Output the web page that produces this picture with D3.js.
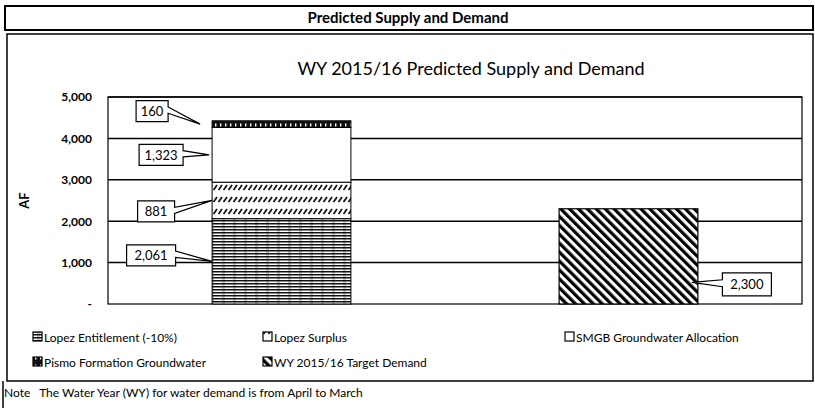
<!DOCTYPE html>
<html>
<head>
<meta charset="utf-8">
<script src="https://cdn.jsdelivr.net/npm/d3@7"></script>
<style>
  body { margin: 0; background: #fff; }
  text { font-family: Lato, "Open Sans", sans-serif; fill: #000; }
</style>
</head>
<body>
<script>
// data
var categories = ["Supply", "Demand"];
var supplySeries = ["Lopez Entitlement (-10%)", "Lopez Surplus", "SMGB Groundwater Allocation", "Pismo Formation Groundwater"];
var supplyValues = [2061, 881, 1323, 160];
var demandSeries = ["WY 2015/16 Target Demand"];
var demandValues = [2300];
var yTicks = [0, 1000, 2000, 3000, 4000, 5000];

var svg = d3.select("body")
    .append("svg")
    .attr("width", 815)
    .attr("height", 408)
    .style("display", "block");

margin = {top: 97, right: 13, bottom: 104, left: 108};
width = 815 - margin.left - margin.right;
height = 408 - margin.top - margin.bottom;

// patterns
var defs = svg.append("defs");

var p1 = defs.append("pattern").attr("id", "pEnt")
    .attr("patternUnits", "userSpaceOnUse").attr("width", 11).attr("height", 3);
p1.append("rect").attr("width", 11).attr("height", 3).attr("fill", "#fff");
p1.append("rect").attr("width", 11).attr("height", 1.5).attr("fill", "#111");
p1.append("rect").attr("x", 4).attr("y", 1.5).attr("width", 3).attr("height", 0.8).attr("fill", "#555");

var p2 = defs.append("pattern").attr("id", "pSur")
    .attr("patternUnits", "userSpaceOnUse").attr("width", 5).attr("height", 12);
p2.append("rect").attr("width", 5).attr("height", 12).attr("fill", "#fff");
p2.append("path").attr("d", "M0.5,9 L4,4").attr("stroke", "#111").attr("stroke-width", 1.8);

var p4 = defs.append("pattern").attr("id", "pPis")
    .attr("patternUnits", "userSpaceOnUse").attr("width", 5).attr("height", 8);
p4.append("rect").attr("width", 5).attr("height", 8).attr("fill", "#111");
p4.append("rect").attr("x", 2).attr("y", 2.5).attr("width", 1.4).attr("height", 3).attr("fill", "#fff");

var p5 = defs.append("pattern").attr("id", "pDem")
    .attr("patternUnits", "userSpaceOnUse").attr("width", 6.3).attr("height", 6.3)
    .attr("patternTransform", "rotate(-45)");
p5.append("rect").attr("width", 6.3).attr("height", 6.3).attr("fill", "#fff");
p5.append("rect").attr("width", 3.2).attr("height", 6.3).attr("fill", "#000");

var fills = ["url(#pEnt)", "url(#pSur)", "#fff", "url(#pPis)"];

// frames
svg.append("rect").attr("x", 5).attr("y", 6).attr("width", 808).attr("height", 24)
    .attr("fill", "none").attr("stroke", "#000").attr("stroke-width", 2);
svg.append("text").attr("x", 408).attr("y", 23).attr("text-anchor", "middle")
    .style("font-size", "15px").style("font-weight", "bold")
    .text("Predicted Supply and Demand");
svg.append("rect").attr("x", 7).attr("y", 34).attr("width", 806).attr("height", 347)
    .attr("fill", "none").attr("stroke", "#000").attr("stroke-width", 1.5);
svg.append("line").attr("x1", 3).attr("x2", 3).attr("y1", 381).attr("y2", 408)
    .attr("stroke", "#000").attr("stroke-width", 1.5);

svg.append("text").attr("x", 471).attr("y", 75).attr("text-anchor", "middle")
    .style("font-size", "18px")
    .text("WY 2015/16 Predicted Supply and Demand");

g = svg.append("g").attr("transform", "translate(" + margin.left + "," + margin.top + ")");

var x = d3.scaleBand().domain(categories).range([0, width]).paddingInner(0.6).paddingOuter(0.3);
var y = d3.scaleLinear().domain([0, 5000]).range([height, 0]);

var yAxis = d3.axisLeft(y)
    .tickValues(yTicks)
    .tickSize(0)
    .tickFormat(function(d) { return d === 0 ? "-" : d3.format(",")(d); });

g.append("g")
    .call(yAxis)
    .call(function(a) { a.select(".domain").remove(); })
    .selectAll("text")
    .attr("x", -16)
    .style("font-family", "Lato, sans-serif")
    .style("font-size", "12px")
    .style("font-weight", "bold");

// gridlines
g.selectAll(".grid").data(yTicks.slice(1)).enter().append("line")
    .attr("x1", 0).attr("x2", width)
    .attr("y1", function(d) { return y(d); }).attr("y2", function(d) { return y(d); })
    .attr("stroke", "#000").attr("stroke-width", 1.5);

g.append("rect").attr("width", width).attr("height", height)
    .attr("fill", "none").attr("stroke", "#000").attr("stroke-width", 1.2);

svg.append("text")
    .attr("transform", "translate(29," + (margin.top + y(2500)) + ") rotate(-90)")
    .attr("text-anchor", "middle")
    .style("font-size", "13px").style("font-weight", "bold")
    .text("AF");

// stacked supply
var stackData = [];
var acc = 0;
supplyValues.forEach(function(v, i) {
    stackData.push({name: supplySeries[i], v: v, y0: acc, y1: acc + v, fill: fills[i]});
    acc += v;
});

g.selectAll(".seg").data(stackData).enter().append("rect")
    .attr("x", x(categories[0]))
    .attr("width", x.bandwidth())
    .attr("y", function(d) { return y(d.y1); })
    .attr("height", function(d) { return y(d.y0) - y(d.y1); })
    .attr("fill", function(d) { return d.fill; })
    .attr("stroke", "#000").attr("stroke-width", 1);

g.selectAll(".dem").data(demandValues).enter().append("rect")
    .attr("x", x(categories[1]))
    .attr("width", x.bandwidth())
    .attr("y", function(d) { return y(d); })
    .attr("height", function(d) { return height - y(d); })
    .attr("fill", "url(#pDem)")
    .attr("stroke", "#000").attr("stroke-width", 1.2);

// callouts: tip at bar edge, box placed by offset
var calloutLayout = [
    {dx: -48, dy: -13, w: 32, h: 21, tipDx: -12},
    {dx: -48, dy: 0, w: 44, h: 21, tipDx: -3},
    {dx: -56, dy: 11, w: 37, h: 21, tipDx: 0},
    {dx: -61, dy: -6, w: 49, h: 21, tipDx: 0}
];

function callout(cx, cy, w, h, tx, ty, label) {
    var x0 = cx - w / 2, x1 = cx + w / 2, y0 = cy - h / 2, y1 = cy + h / 2;
    var b1 = y0 + h * 0.3, b2 = y0 + h * 0.6;
    var d;
    if (tx > x1) {
        d = "M" + x0 + "," + y0 + "H" + x1 + "V" + b1 + "L" + tx + "," + ty + "L" + x1 + "," + b2 + "V" + y1 + "H" + x0 + "Z";
    } else {
        d = "M" + x0 + "," + y0 + "H" + x1 + "V" + y1 + "H" + x0 + "V" + b2 + "L" + tx + "," + ty + "L" + x0 + "," + b1 + "Z";
    }
    g.append("path").attr("d", d).attr("fill", "#fff").attr("stroke", "#000").attr("stroke-width", 1.2);
    g.append("text").attr("x", cx).attr("y", cy + 5).attr("text-anchor", "middle")
        .style("font-size", "13px").text(label);
}

stackData.slice().reverse().forEach(function(d, j) {
    var L = calloutLayout[j];
    var tx = x(categories[0]) + L.tipDx;
    var ty = y((d.y0 + d.y1) / 2);
    callout(tx + L.dx, ty + L.dy, L.w, L.h, tx, ty, d3.format(",")(d.v));
});

demandValues.forEach(function(v) {
    var tx = x(categories[1]) + x.bandwidth() - 6;
    var ty = y(v * 0.5) + 26;
    callout(tx + 55, ty + 2, 49, 23, tx, ty, d3.format(",")(v));
});

// legend
var legendItems = [
    {name: supplySeries[0], fill: fills[0], x: 33, y: 337},
    {name: supplySeries[1], fill: fills[1], x: 263, y: 337},
    {name: supplySeries[2], fill: fills[2], x: 565, y: 337},
    {name: supplySeries[3], fill: fills[3], x: 33, y: 362},
    {name: demandSeries[0], fill: "url(#pDem)", x: 263, y: 362}
];

var lg = svg.selectAll(".lg").data(legendItems).enter().append("g")
    .attr("transform", function(d) { return "translate(" + d.x + "," + d.y + ")"; });
lg.append("rect").attr("x", 0).attr("y", -5).attr("width", 9).attr("height", 9)
    .attr("fill", function(d) { return d.fill; })
    .attr("stroke", "#000").attr("stroke-width", 1.2);
lg.append("text").attr("x", 11).attr("y", 4.5)
    .style("font-size", "12px")
    .text(function(d) { return d.name; });

svg.append("text").attr("x", 4).attr("y", 397)
    .style("font-size", "12px")
    .style("white-space", "pre")
    .text("Note   The Water Year (WY) for water demand is from April to March");
</script>
</body>
</html>
